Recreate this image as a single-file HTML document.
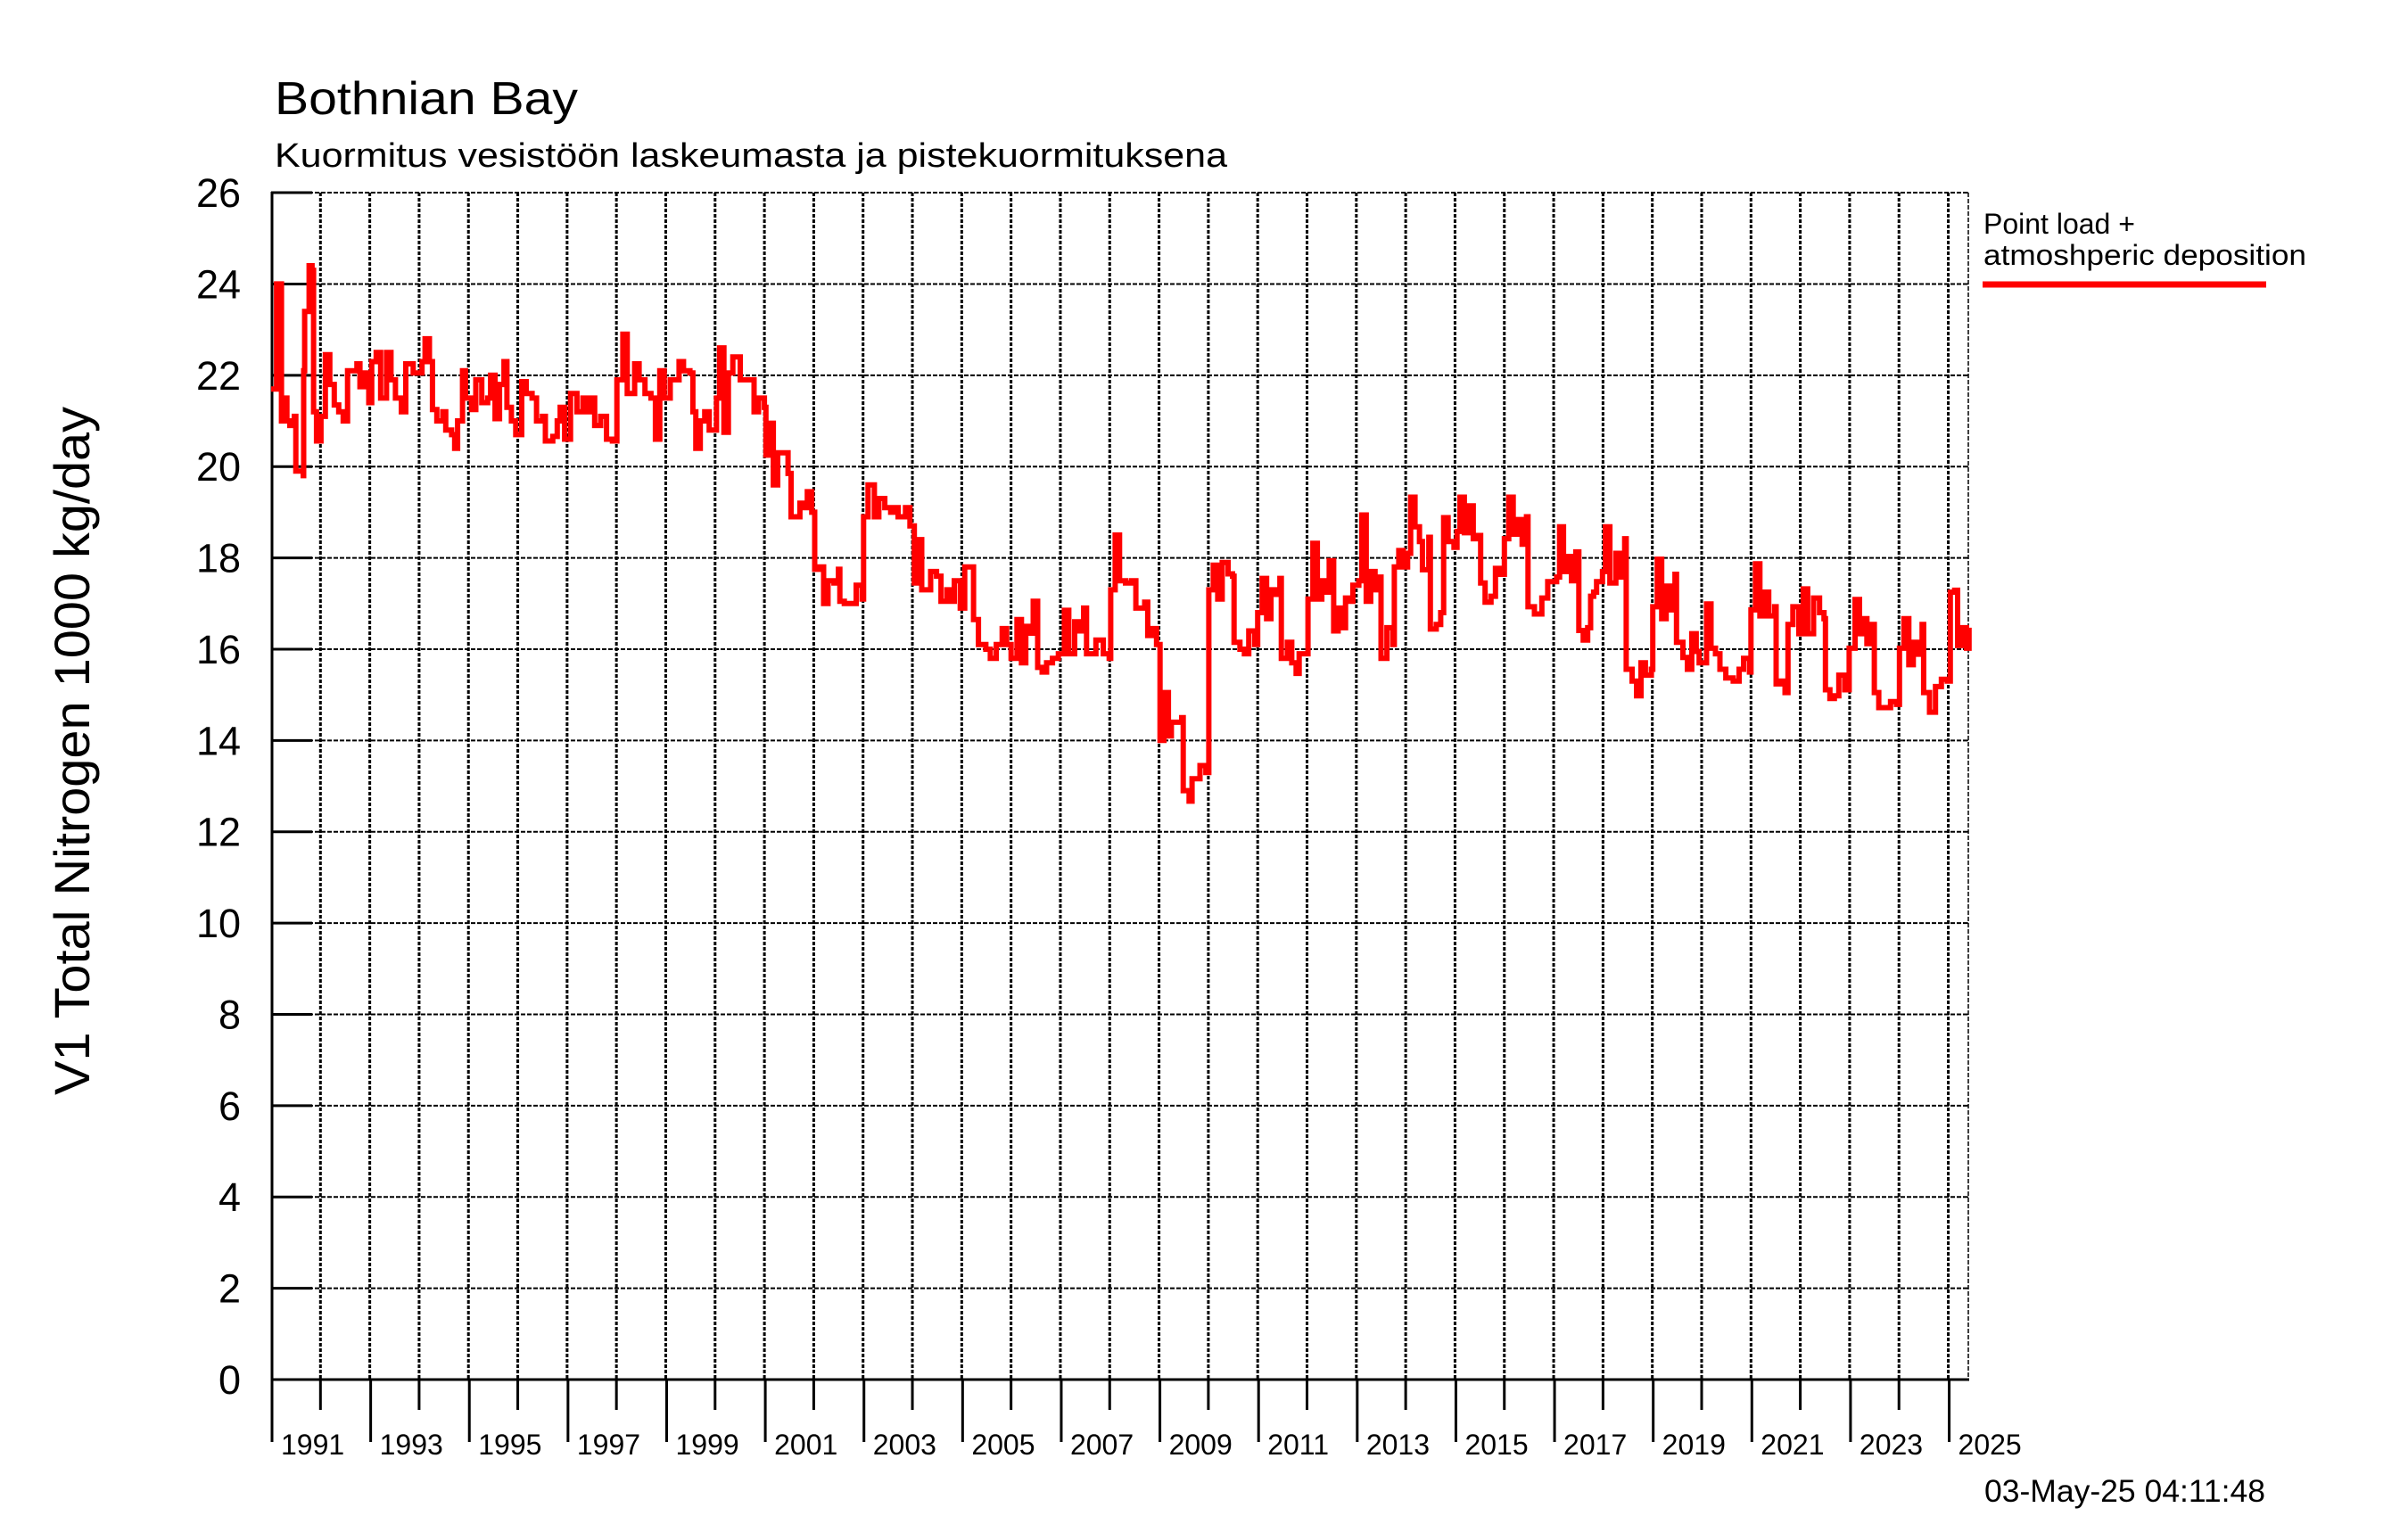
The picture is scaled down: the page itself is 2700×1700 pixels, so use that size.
<!DOCTYPE html>
<html><head><meta charset="utf-8"><title>Bothnian Bay</title>
<style>html,body{margin:0;padding:0;background:#fff}svg{display:block}</style></head>
<body>
<svg id="chart" xmlns="http://www.w3.org/2000/svg" width="2700" height="1700" viewBox="0 0 2700 1700" font-family="'Liberation Sans', Arial, sans-serif">
<rect width="2700" height="1700" fill="#fff"/>
<text x="308" y="128" font-size="52" textLength="340" lengthAdjust="spacingAndGlyphs">Bothnian Bay</text>
<text x="308" y="187" font-size="38" textLength="1068" lengthAdjust="spacingAndGlyphs">Kuormitus vesistöön laskeumasta ja pistekuormituksena</text>
<text transform="translate(100,842) rotate(-90)" text-anchor="middle" font-size="56" textLength="772" lengthAdjust="spacingAndGlyphs">V1 Total Nitrogen 1000 kg/day</text>
<g id="grid"></g>
<g id="axes"></g>
<path id="series" fill="none" stroke="#ff0000" stroke-width="6" stroke-linejoin="miter"/>
<g>
<text x="2224" y="262" font-size="32">Point load +</text>
<text x="2224" y="297" font-size="32" textLength="362" lengthAdjust="spacingAndGlyphs">atmoshperic deposition</text>
<line x1="2223" y1="319" x2="2541" y2="319" stroke="#ff0000" stroke-width="7"/>
</g>
<text x="2225" y="1684" font-size="35" textLength="315" lengthAdjust="spacingAndGlyphs">03-May-25 04:11:48</text>
</svg>
<script>
const yTicks = [0,2,4,6,8,10,12,14,16,18,20,22,24,26];
const yearLabels = [1991,1993,1995,1997,1999,2001,2003,2005,2007,2009,2011,2013,2015,2017,2019,2021,2023,2025];
const dates = [1991.00,1991.11,1991.20,1991.21,1991.29,1991.32,1991.38,1991.47,1991.50,1991.65,1991.66,1991.68,1991.77,1991.83,1991.86,1991.92,
1992.01,1992.10,1992.19,1992.28,1992.37,1992.46,1992.55,1992.74,1992.80,1992.89,1992.98,
1993.04,1993.13,1993.22,1993.34,1993.43,1993.52,1993.64,1993.73,1993.88,
1994.06,1994.12,1994.21,1994.27,1994.36,1994.48,1994.54,1994.66,1994.72,1994.78,1994.88,1994.94,
1995.06,1995.15,1995.27,1995.39,1995.45,1995.54,1995.63,1995.72,1995.78,1995.87,1995.96,
1996.08,1996.17,1996.29,1996.38,1996.50,1996.56,1996.71,1996.80,1996.86,1996.95,
1997.07,1997.20,1997.32,1997.41,1997.50,1997.56,1997.68,1997.80,1997.92,
1998.01,1998.13,1998.22,1998.37,1998.46,1998.58,1998.70,1998.79,1998.88,1998.97,
1999.09,1999.27,1999.36,1999.49,1999.55,1999.61,1999.70,1999.79,1999.88,
2000.00,2000.03,2000.09,2000.18,2000.27,2000.36,2000.48,2000.51,2000.72,2000.79,2000.88,
2001.00,2001.03,2001.12,2001.18,2001.27,2001.42,2001.48,2001.54,2001.66,2001.72,2001.81,2001.87,2001.96,
2002.02,2002.11,2002.20,2002.29,2002.41,2002.50,2002.53,2002.62,2002.80,2002.86,2002.98,
2003.01,2003.10,2003.23,2003.32,2003.44,2003.56,2003.65,2003.71,2003.86,2003.95,
2004.04,2004.13,2004.19,2004.37,2004.49,2004.58,2004.70,2004.79,2004.85,2004.97,
2005.06,2005.15,2005.24,2005.34,2005.49,2005.58,2005.70,2005.82,2005.91,
2006.00,2006.12,2006.21,2006.30,2006.36,2006.45,2006.54,2006.63,2006.72,2006.84,2006.96,
2007.08,2007.17,2007.29,2007.38,2007.47,2007.53,2007.72,2007.87,2007.99,
2008.02,2008.11,2008.20,2008.32,2008.44,2008.53,2008.65,2008.71,2008.77,2008.86,2008.95,
2009.01,2009.02,2009.10,2009.19,2009.25,2009.46,2009.49,2009.61,2009.67,2009.83,2009.95,
2010.01,2010.10,2010.19,2010.28,2010.40,2010.49,2010.52,2010.64,2010.73,2010.82,2010.94,
2011.00,2011.09,2011.18,2011.27,2011.36,2011.45,2011.48,2011.60,2011.69,2011.78,2011.84,2011.99,
2012.02,2012.12,2012.21,2012.30,2012.39,2012.45,2012.54,2012.63,2012.72,2012.78,2012.87,2012.93,
2013.05,2013.11,2013.20,2013.29,2013.38,2013.47,2013.50,2013.62,2013.74,2013.77,2013.86,2013.95,
2014.04,2014.10,2014.19,2014.28,2014.34,2014.47,2014.50,2014.62,2014.71,2014.77,2014.86,2014.98,
2015.04,2015.10,2015.19,2015.28,2015.37,2015.46,2015.52,2015.61,2015.73,2015.82,2015.91,
2016.00,2016.09,2016.18,2016.27,2016.36,2016.45,2016.48,2016.61,2016.76,2016.88,
2017.06,2017.12,2017.20,2017.29,2017.36,2017.45,2017.51,2017.60,2017.69,2017.75,2017.81,2017.87,2017.99,
2018.05,2018.14,2018.26,2018.35,2018.44,2018.47,2018.59,2018.68,2018.77,2018.86,2018.98,
2019.01,2019.10,2019.19,2019.28,2019.37,2019.46,2019.49,2019.62,2019.71,2019.80,2019.89,2019.95,
2020.10,2020.19,2020.28,2020.37,2020.49,2020.64,2020.76,2020.85,2020.97,
2021.00,2021.09,2021.18,2021.27,2021.36,2021.48,2021.51,2021.60,2021.69,2021.75,2021.85,2021.97,
2022.06,2022.15,2022.27,2022.39,2022.48,2022.51,2022.60,2022.69,2022.78,2022.90,2022.99,
2023.11,2023.20,2023.29,2023.35,2023.44,2023.50,2023.59,2023.71,2023.83,2023.95,
2024.01,2024.10,2024.20,2024.29,2024.38,2024.47,2024.50,2024.62,2024.74,2024.86,2024.98,
2025.04,2025.13,2025.19,2025.28,2025.37,2025.42];
const values = [21.7,24.0,24.0,21.0,21.5,21.0,20.9,21.1,19.9,19.8,22.1,23.4,24.4,24.3,21.2,20.56,
21.1,22.45,21.8,21.35,21.2,21.0,22.1,22.25,21.75,22.05,21.4,
22.3,22.5,21.5,22.5,21.9,21.5,21.2,22.25,22.05,
22.3,22.8,22.3,21.25,21.0,21.2,20.8,20.7,20.4,21.0,22.1,21.5,
21.25,21.9,21.4,21.5,22.0,21.05,21.8,22.3,21.3,21.0,20.7,
21.86,21.6,21.5,21.0,21.1,20.56,20.66,21.0,21.3,20.6,
21.6,21.2,21.5,21.2,21.5,20.9,21.1,20.6,20.56,
21.9,22.9,21.6,22.25,21.9,21.6,21.5,20.6,22.1,21.5,
21.9,22.3,22.1,22.05,21.2,20.4,21.0,21.2,20.8,
20.8,21.5,22.6,20.75,22.05,22.4,22.4,21.9,21.9,21.2,21.5,
21.3,20.25,20.95,19.6,20.3,20.3,19.85,18.9,18.9,19.2,19.1,19.45,19.0,
17.75,17.8,17.0,17.5,17.45,17.75,17.05,17.0,17.0,17.4,17.1,
18.9,19.6,18.9,19.3,19.1,19.0,19.1,18.9,19.1,18.7,
17.45,18.4,17.3,17.7,17.6,17.05,17.3,17.05,17.5,16.9,
17.8,17.8,16.65,16.1,16.0,15.8,16.1,16.45,16.1,
15.8,16.65,15.7,16.5,16.35,17.05,15.6,15.5,15.7,15.8,15.9,
16.85,15.9,16.6,16.4,16.9,15.9,16.2,15.9,15.8,
17.3,18.5,17.5,17.45,17.5,16.9,16.9,17.03,16.3,16.45,16.1,
16.1,14.0,15.05,14.1,14.4,14.5,12.9,12.67,13.16,13.45,13.3,
17.3,17.84,17.1,17.9,17.65,17.6,16.15,16.0,15.9,16.4,16.1,
16.8,17.55,16.67,17.3,17.2,17.55,15.8,16.15,15.7,15.47,15.9,15.9,
17.1,18.32,17.1,17.5,17.25,17.94,16.4,16.9,16.47,17.12,17.05,17.4,
17.5,18.94,17.05,17.7,17.3,17.58,15.8,16.47,16.1,17.8,18.16,17.8,
18.1,19.33,18.68,18.36,17.74,18.45,16.44,16.54,16.8,18.88,18.36,18.23,
18.58,19.33,18.55,19.14,18.42,18.49,17.45,17.03,17.16,17.77,17.64,
18.42,19.33,18.52,18.84,18.3,18.9,16.93,16.77,17.12,17.48,
17.58,18.68,17.7,18.03,17.5,18.13,16.41,16.2,16.47,17.16,17.25,17.48,17.7,
18.68,17.45,18.1,17.58,18.42,15.56,15.3,14.98,15.7,15.43,15.56,
16.93,17.97,16.67,17.38,16.86,17.64,16.15,15.82,15.56,16.34,15.95,15.7,
16.99,16.02,15.9,15.56,15.37,15.3,15.56,15.8,15.5,
16.86,17.87,16.73,17.25,16.73,16.93,15.24,15.3,15.05,16.54,16.93,16.34,
17.32,16.34,17.12,16.8,16.67,15.11,14.92,14.98,15.43,15.11,16.02,
17.09,16.34,16.67,16.12,16.54,15.05,14.72,14.72,14.85,14.79,
16.02,16.67,15.66,16.15,15.89,16.54,15.05,14.62,15.18,15.34,15.3,
17.25,17.29,16.08,16.47,16.02,16.47];

const NS = 'http://www.w3.org/2000/svg';
const X0 = 304, PXY = 55.31, Y0 = 1547, PXV = 51.19, RIGHT = 2207, TOP = 216;
function xs(yr){ return X0 + (yr - 1991) * PXY; }
function ys(v){ return Y0 - v * PXV; }
function mk(tag, attrs, parent){
  const e = document.createElementNS(NS, tag);
  for (const k in attrs) e.setAttribute(k, attrs[k]);
  parent.appendChild(e); return e;
}
const grid = document.getElementById('grid');
const axes = document.getElementById('axes');

// horizontal grid
yTicks.forEach(v => {
  if (v === 0) return;
  const l = mk('line', {x1: X0, x2: RIGHT, y1: ys(v), y2: ys(v), stroke: '#000', 'stroke-width': 2, 'stroke-dasharray': '5,2'}, grid);
  
  
});
// vertical grid per year
for (let yr = 1992; yr <= 2025; yr++) {
  const l = mk('line', {x1: xs(yr), x2: xs(yr), y1: TOP, y2: Y0, stroke: '#000', 'stroke-width': 3, 'stroke-dasharray': '4,2'}, grid);
  
  
}
const rb = mk('line', {x1: RIGHT, x2: RIGHT, y1: TOP, y2: Y0, stroke: '#000', 'stroke-width': 1.5, 'stroke-dasharray': '5,2'}, grid);



// axes
const ya = mk('line', {x1: X0 + 1, x2: X0 + 1, y1: TOP - 1, y2: 1617, stroke: '#000', 'stroke-width': 3}, axes);


const xa = mk('line', {x1: X0, x2: RIGHT + 1, y1: Y0, y2: Y0, stroke: '#000', 'stroke-width': 3}, axes);



yTicks.forEach(v => {
  const t = mk('line', {x1: X0, x2: X0 + 46, y1: ys(v), y2: ys(v), stroke: '#000', 'stroke-width': 3}, axes);
  
  
  const rt = mk('line', {x1: RIGHT - 6, x2: RIGHT, y1: ys(v), y2: ys(v), stroke: '#000', 'stroke-width': 1.5}, axes);
  
  
  const lb = mk('text', {x: 270, y: ys(v) + 16, 'text-anchor': 'end', 'font-size': 45}, axes);
  
  
  lb.textContent = v;
});
for (let yr = 1992; yr <= 2024; yr += 2) {
  const t = mk('line', {x1: xs(yr), x2: xs(yr), y1: Y0, y2: 1581, stroke: '#000', 'stroke-width': 3}, axes);
  
  
}
yearLabels.forEach(yr => {
  const t = mk('line', {x1: xs(yr) + 1, x2: xs(yr) + 1, y1: Y0, y2: 1617, stroke: '#000', 'stroke-width': 3}, axes);
  
  
  const lb = mk('text', {x: xs(yr) + 11, y: 1631, 'font-size': 32}, axes);
  
  
  lb.textContent = yr;
});

// series as step line
let d = '';
for (let i = 0; i < dates.length; i++) {
  const x = xs(dates[i]).toFixed(1), y = ys(values[i]).toFixed(1);
  if (i === 0) d += 'M' + x + ',' + y;
  else d += 'H' + x + 'V' + y;
}
document.getElementById('series').setAttribute('d', d);
</script>
</body></html>
